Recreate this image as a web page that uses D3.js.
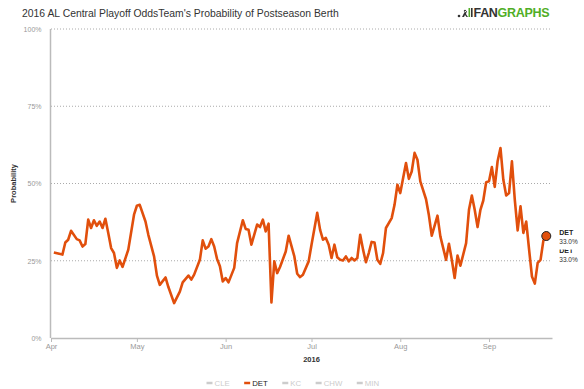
<!DOCTYPE html>
<html>
<head>
<meta charset="utf-8">
<script src="https://cdn.jsdelivr.net/npm/d3@7"></script>
<style>
  body { margin: 0; background: #fff; }
  svg { font-family: "Liberation Sans", Arial, sans-serif; }
  .y-axis .domain, .x-axis .domain { stroke: #bbb; stroke-width: 1.5; }
  .x-axis .tick line { stroke: #bbb; }
  .y-axis .tick line { display: none; }
  .tick text { fill: #999; }
  .y-axis .tick text { font-size: 7px; }
  .x-axis .tick text { font-size: 7.5px; }
</style>
</head>
<body>
<div id="chart-area"></div>
<script>
// DET postseason odds, 2016
const dates = [
  "2016-04-02","2016-04-05","2016-04-06","2016-04-07","2016-04-08","2016-04-10","2016-04-11","2016-04-12",
  "2016-04-13","2016-04-14","2016-04-15","2016-04-16","2016-04-17","2016-04-18","2016-04-19","2016-04-20",
  "2016-04-21","2016-04-22","2016-04-23","2016-04-24","2016-04-25","2016-04-26","2016-04-28","2016-04-30",
  "2016-05-01","2016-05-02","2016-05-04","2016-05-05","2016-05-07","2016-05-08","2016-05-09","2016-05-11",
  "2016-05-12","2016-05-14","2016-05-16","2016-05-17","2016-05-19","2016-05-20","2016-05-21","2016-05-23",
  "2016-05-24","2016-05-25","2016-05-26","2016-05-27","2016-05-28","2016-05-29","2016-05-30","2016-05-31",
  "2016-06-01","2016-06-02","2016-06-04","2016-06-05","2016-06-07","2016-06-08","2016-06-09","2016-06-10",
  "2016-06-12","2016-06-13","2016-06-14","2016-06-15","2016-06-16","2016-06-17","2016-06-18","2016-06-19",
  "2016-06-20","2016-06-22","2016-06-23","2016-06-25","2016-06-26","2016-06-27","2016-06-28","2016-06-30",
  "2016-07-01","2016-07-03","2016-07-04","2016-07-05","2016-07-06","2016-07-07","2016-07-08","2016-07-09",
  "2016-07-10","2016-07-11","2016-07-12","2016-07-13","2016-07-14","2016-07-15","2016-07-16","2016-07-17",
  "2016-07-18","2016-07-19","2016-07-20","2016-07-21","2016-07-22","2016-07-23","2016-07-24","2016-07-25",
  "2016-07-26","2016-07-27","2016-07-29","2016-07-30","2016-07-31","2016-08-01","2016-08-03","2016-08-04",
  "2016-08-05","2016-08-06","2016-08-07","2016-08-08","2016-08-10","2016-08-11","2016-08-12","2016-08-14",
  "2016-08-15","2016-08-17","2016-08-18","2016-08-19","2016-08-20","2016-08-21","2016-08-22","2016-08-24",
  "2016-08-25","2016-08-26","2016-08-27","2016-08-28","2016-08-29","2016-08-30","2016-08-31","2016-09-01",
  "2016-09-02","2016-09-03","2016-09-04","2016-09-05","2016-09-06","2016-09-07","2016-09-08","2016-09-09",
  "2016-09-10","2016-09-11","2016-09-12","2016-09-13","2016-09-14","2016-09-15","2016-09-16","2016-09-17",
  "2016-09-18","2016-09-19","2016-09-20","2016-09-21"
];
const detOdds = [
  27.7, 27.0, 30.9, 31.8, 34.7, 32.0, 31.6, 29.6,
  30.4, 38.3, 35.6, 38.1, 36.3, 37.7, 35.6, 38.6,
  34.0, 29.1, 27.5, 22.7, 25.1, 23.0, 28.6, 39.9,
  42.8, 43.1, 37.7, 33.4, 26.4, 20.2, 17.2, 19.6,
  16.5, 11.3, 15.0, 18.0, 20.2, 18.9, 20.5, 25.3,
  31.6, 28.9, 29.6, 32.0, 29.6, 25.6, 23.2, 18.3,
  19.4, 18.0, 22.7, 30.7, 38.1, 35.3, 35.0, 30.2,
  36.7, 35.9, 38.3, 34.5, 37.0, 11.5, 24.8, 21.0,
  23.0, 28.0, 33.1, 26.4, 20.8, 19.7, 20.5, 24.8,
  30.2, 40.5, 35.0, 31.8, 32.4, 30.2, 25.9, 30.2,
  26.1, 25.3, 25.1, 26.4, 24.8, 25.9, 25.1, 25.9,
  33.4, 28.6, 24.5, 27.5, 31.1, 30.9, 25.3, 24.0,
  27.5, 35.6, 38.8, 43.1, 49.6, 46.9, 56.6, 51.5,
  53.9, 59.9, 57.7, 50.7, 44.9, 39.7, 33.1, 39.6,
  32.9, 25.3, 30.5, 25.3, 19.4, 26.7, 23.4, 30.7,
  41.5, 46.1, 41.5, 35.9, 41.5, 44.5, 50.4, 50.7,
  55.3, 48.9, 57.2, 61.5, 51.2, 46.1, 46.9, 57.2,
  44.8, 34.8, 42.6, 34.0, 37.7, 28.6, 19.9, 17.6,
  24.3, 25.3, 31.6, 33.0
];
const yTicks = [0, 25, 50, 75, 100];
const monthTicks = ["2016-04-01","2016-05-01","2016-06-01","2016-07-01","2016-08-01","2016-09-01"];
const teams = ["CLE", "DET", "KC", "CHW", "MIN"];
const activeTeam = "DET";

const width = 584, height = 389;
const margin = {top: 29, right: 32, bottom: 51, left: 51};
const lineColor = "#e14f0c";

const parse = d3.timeParse("%Y-%m-%d");
const data = dates.map((d, i) => ({date: parse(d), value: detOdds[i]}));

const svg = d3.select("#chart-area").append("svg")
    .attr("width", width)
    .attr("height", height);

const x = d3.scaleTime()
    .domain([parse("2016-04-01"), parse("2016-09-23")])
    .range([margin.left, width - margin.right]);

const y = d3.scaleLinear()
    .domain([0, 100])
    .range([height - margin.bottom, margin.top]);

// title
svg.append("text")
    .attr("x", 22).attr("y", 17)
    .attr("font-size", 10.4)
    .attr("fill", "#333")
    .text("2016 AL Central Playoff OddsTeam's Probability of Postseason Berth");

// fangraphs logo
const logo = svg.append("g").attr("transform", "translate(457,8)");
logo.append("circle").attr("cx", 2).attr("cy", 8).attr("r", 1.3).attr("fill", "#333");
logo.append("path")
    .attr("d", "M5,9 L8,3 L10,3 L9,6 L11,9 L9.5,9 L8,7 L7,9 Z M8,1.8 a1.2,1.2 0 1,0 0.01,0")
    .attr("fill", "#333");
logo.append("rect").attr("x", 11.5).attr("y", 0).attr("width", 1.6).attr("height", 9).attr("fill", "#50ae26");
logo.append("rect").attr("x", 14).attr("y", 0).attr("width", 1.6).attr("height", 9).attr("fill", "#333");
const logoText = logo.append("text")
    .attr("x", 16.5).attr("y", 9)
    .attr("font-size", 12.5)
    .attr("font-weight", "bold")
    .attr("letter-spacing", -0.3);
logoText.append("tspan").attr("fill", "#333").text("FAN");
logoText.append("tspan").attr("fill", "#50ae26").text("GRAPHS");

// gridlines
svg.append("g")
    .selectAll("line")
    .data(yTicks.filter(d => d > 0))
    .enter().append("line")
    .attr("x1", margin.left)
    .attr("x2", width - margin.right)
    .attr("y1", d => y(d))
    .attr("y2", d => y(d))
    .attr("stroke", "#aaa")
    .attr("stroke-width", 1)
    .attr("stroke-dasharray", "1,2");

// axes
svg.append("g")
    .attr("class", "y-axis")
    .attr("transform", `translate(${margin.left - 0.5},0)`)
    .call(d3.axisLeft(y).tickValues(yTicks).tickFormat(d => d + "%").tickSize(0).tickPadding(9))
    .call(g => g.select(".domain").attr("d", `M0,${y(100)}V${y(0)}`));

svg.append("g")
    .attr("class", "x-axis")
    .attr("transform", `translate(0,${height - margin.bottom})`)
    .call(d3.axisBottom(x)
        .tickValues(monthTicks.map(parse))
        .tickFormat(d3.timeFormat("%b"))
        .tickSizeInner(4).tickSizeOuter(0).tickPadding(2));

svg.append("text")
    .attr("transform", `translate(16,${y(50)}) rotate(-90)`)
    .attr("text-anchor", "middle")
    .attr("font-size", 7.5)
    .attr("font-weight", "bold")
    .attr("fill", "#333")
    .text("Probability");

svg.append("text")
    .attr("x", x(parse("2016-07-01")))
    .attr("y", 362)
    .attr("text-anchor", "middle")
    .attr("font-size", 7.5)
    .attr("font-weight", "bold")
    .attr("fill", "#333")
    .text("2016");

// line
const line = d3.line()
    .x(d => x(d.date))
    .y(d => y(d.value));

svg.append("path")
    .datum(data)
    .attr("fill", "none")
    .attr("stroke", lineColor)
    .attr("stroke-width", 2.6)
    .attr("stroke-linejoin", "round")
    .attr("d", line);

// end marker and labels
const last = data[data.length - 1];
const lx = x(last.date), ly = y(last.value);

svg.append("circle")
    .attr("cx", lx).attr("cy", ly)
    .attr("r", 4.5)
    .attr("fill", lineColor)
    .attr("stroke", "#222")
    .attr("stroke-width", 1);

const labelX = lx + 13;
const labels = [ly + 18, ly]; // lower one drawn first, upper one covers it
labels.forEach((yy, i) => {
    const g = svg.append("g");
    if (i === 1) {
        g.append("rect").attr("x", labelX - 1).attr("y", yy - 8).attr("width", 24).attr("height", 21.5).attr("fill", "#fff");
    }
    g.append("text").attr("x", labelX).attr("y", yy - 1.5)
        .attr("font-size", 7).attr("font-weight", "bold").attr("fill", "#222")
        .text(activeTeam);
    g.append("text").attr("x", labelX).attr("y", yy + 7.5)
        .attr("font-size", 6.5).attr("fill", "#333")
        .text(last.value.toFixed(1) + "%");
});

// legend, laid out left to right by text width
const legend = svg.append("g").attr("transform", "translate(0,383)");
let lxPos = 206.5;
teams.forEach(t => {
    const g = legend.append("g").attr("transform", `translate(${lxPos},0)`);
    g.append("line")
        .attr("x1", 0).attr("x2", 6)
        .attr("stroke", t === activeTeam ? lineColor : "#ccc")
        .attr("stroke-width", 2.5);
    const txt = g.append("text")
        .attr("x", 8).attr("y", 2.7)
        .attr("font-size", 7.8)
        .attr("fill", t === activeTeam ? "#222" : "#ccc")
        .text(t);
    lxPos += 8 + txt.node().getComputedTextLength() + 14.5;
});
</script>
</body>
</html>
